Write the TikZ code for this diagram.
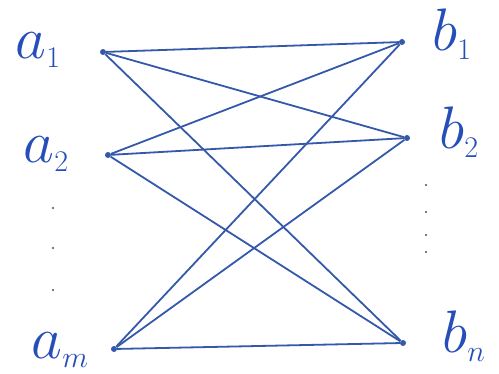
\RequirePackage{fix-cm}
\documentclass[tikz,border=0pt]{standalone}
\usepackage{amsmath}
\usetikzlibrary{positioning}

\definecolor{pen}{RGB}{52,88,170}
\definecolor{ink}{RGB}{38,78,185}

\tikzset{
  vertex/.style={circle,fill=pen,inner sep=0pt,minimum size=6pt},
  edge/.style={draw=pen,line width=1.8pt},
  lbl/.style={text=ink,font=\fontsize{60}{66}\selectfont},
  speck/.style={fill=black!70}
}

\begin{document}
\begin{tikzpicture}[x=1pt,y=-1pt]
  \useasboundingbox (0,0) rectangle (499,374);
  \node[vertex] (a1) at (103,52) {};
  \node[vertex] (a2) at (108,155) {};
  \node[vertex] (am) at (114,349) {};
  \node[vertex] (b1) at (402,42) {};
  \node[vertex] (b2) at (407,138) {};
  \node[vertex] (bn) at (403,343) {};
  \foreach \u in {a1,a2,am}
    \foreach \v in {b1,b2,bn}
      \draw[edge] (\u) -- (\v);
  \node[lbl] (la1) at (38,50) {$a_{\scriptscriptstyle 1}$};
  \node[lbl] (la2) at (46,154) {$a_{\scriptscriptstyle 2}$};
  \node[lbl] (lam) at (60,350) {$a_{\scriptscriptstyle m}$};
  \node[lbl] (lb1) at (452,34) {$b_{\scriptscriptstyle 1}$};
  \node[lbl] (lb2) at (459,132) {$b_{\scriptscriptstyle 2}$};
  \node[lbl] (lbn) at (464,336) {$b_{\scriptscriptstyle n}$};
  % dots
  \foreach \y in {208,248,290} \fill[speck] (53,\y) circle (1.2pt);
  \foreach \y in {185,212,235,252} \fill[speck] (426,\y) circle (1.2pt);
\end{tikzpicture}
\end{document}
